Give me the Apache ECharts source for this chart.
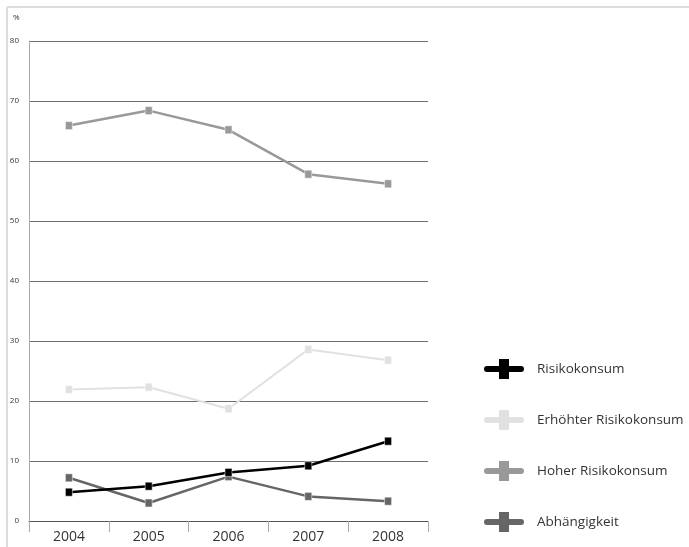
<!DOCTYPE html>
<html>
<head>
<meta charset="utf-8">
<script src="https://cdn.jsdelivr.net/npm/echarts@6/dist/echarts.min.js"></script>
<style>html,body{margin:0;padding:0;background:#fff;}#c{width:689px;height:547px;}</style>
</head>
<body>
<div id="c"></div>
<script>
const categories = ['2004', '2005', '2006', '2007', '2008'];
const seriesNames = ['Risikokonsum', 'Erhöhter Risikokonsum', 'Hoher Risikokonsum', 'Abhängigkeit'];
const risikokonsum = [4.8, 5.8, 8.1, 9.2, 13.3];
const erhoehter = [21.9, 22.3, 18.7, 28.6, 26.8];
const hoher = [65.9, 68.4, 65.2, 57.8, 56.2];
const abhaengigkeit = [7.2, 3.0, 7.4, 4.1, 3.3];
const yTicks = { min: 0, max: 80, interval: 10 };
const colors = ['#000000', '#e1e1e1', '#999999', '#666666'];
const widths = [2.5, 2, 2.5, 2.5];

const dataSets = [risikokonsum, erhoehter, hoher, abhaengigkeit];
const font = '"Open Sans", sans-serif';
const legendIcon = 'path://M3,7 H15 V0 H25 V7 H37 A3,3 0 0 1 37,13 H25 V20 H15 V13 H3 A3,3 0 0 1 3,7 Z';

const chart = echarts.init(document.getElementById('c'));
chart.setOption({
  animation: false,
  backgroundColor: '#fff',
  grid: { left: 29, top: 41, right: 261, bottom: 26, containLabel: false },
  xAxis: {
    type: 'category',
    data: categories,
    boundaryGap: true,
    axisLine: { lineStyle: { color: '#555', width: 1 } },
    axisTick: { show: true, length: 11, lineStyle: { color: '#aaa', width: 1 } },
    axisLabel: { color: '#333', fontSize: 14, fontFamily: font, margin: 9 },
    splitLine: { show: false }
  },
  yAxis: {
    type: 'value',
    min: yTicks.min, max: yTicks.max, interval: yTicks.interval,
    axisLine: { show: true, lineStyle: { color: '#aaa', width: 1 } },
    axisTick: { show: false },
    axisLabel: { color: '#333', fontSize: 8, fontFamily: font, margin: 10 },
    splitLine: { show: true, lineStyle: { color: '#6e6e6e', width: 1 } }
  },
  legend: {
    orient: 'vertical',
    left: 484,
    top: 359,
    height: 186,
    padding: 0,
    itemWidth: 40,
    itemHeight: 20,
    itemGap: 31,
    icon: legendIcon,
    itemStyle: { borderWidth: 0 },
    lineStyle: { width: 0 },
    textStyle: { color: '#333', fontSize: 13.5, fontFamily: font, padding: [0, 0, 0, 8] },
    data: seriesNames
  },
  graphic: [
    { type: 'line', shape: { x1: 7, y1: 7, x2: 689, y2: 7 }, style: { stroke: '#dcdcdc', lineWidth: 2 } },
    { type: 'line', shape: { x1: 7, y1: 7, x2: 7, y2: 547 }, style: { stroke: '#dcdcdc', lineWidth: 2 } },
    { type: 'text', left: 13, top: 14, style: { text: '%', fill: '#333', font: '8px "Open Sans", sans-serif' } }
  ],
  series: seriesNames.map((name, i) => ({
    name: name,
    type: 'line',
    data: dataSets[i],
    symbol: 'rect',
    symbolSize: [7, 8],
    showSymbol: true,
    color: colors[i],
    lineStyle: { color: colors[i], width: widths[i] },
    itemStyle: { color: colors[i], borderColor: '#fff', borderWidth: 0.5 },
    z: 10 - i
  }))
});
</script>
</body>
</html>
